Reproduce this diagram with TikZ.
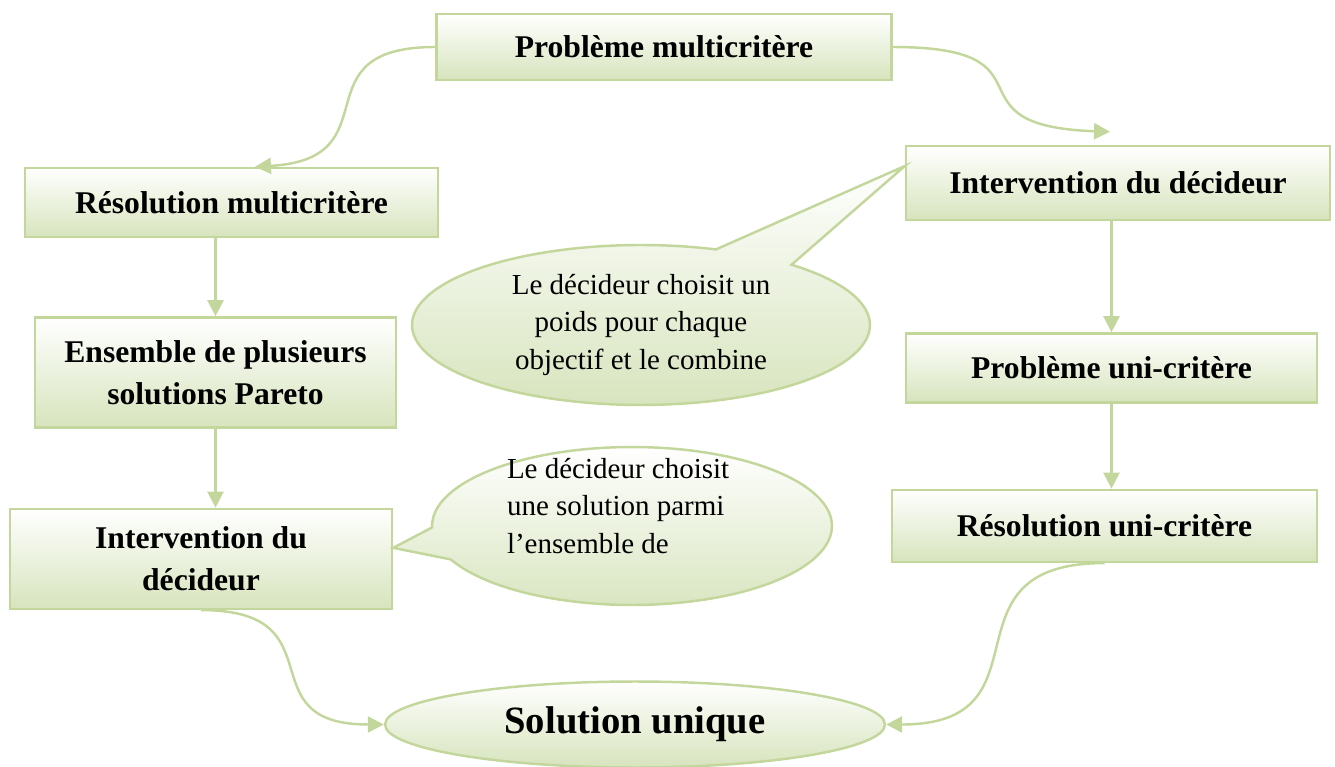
\documentclass[tikz,border=0pt]{standalone}
\usepackage{fontspec}
\setmainfont{Liberation Serif}
\usetikzlibrary{arrows.meta,positioning,shapes.geometric,shapes.callouts}
\definecolor{vline}{HTML}{C3D69B}
\definecolor{vfill}{HTML}{D7E4BD}

\begin{document}
\begin{tikzpicture}[
  x=0.02cm, y=-0.02cm,
  etape/.style={
    draw=vline,
    line width=1.4pt,
    top color=white,
    bottom color=vfill,
    align=center,
    inner sep=2pt,
    font=\fontsize{18}{24}\selectfont\bfseries
  },
  bulle/.style={
    ellipse callout,
    draw=vline,
    line width=1.4pt,
    top color=white,
    bottom color=vfill,
    inner sep=0pt,
    font=\fontsize{16.5}{21.3}\selectfont
  },
  flow/.style={-{Triangle[length=3.2mm,width=3.2mm]}, draw=vline, line width=1.4pt}
]

\useasboundingbox (0,0) rectangle (1335,767);

\node[etape, minimum width=9.1cm, minimum height=1.32cm] (pbmulti) at (664,47) {Problème multicritère};

\node[etape, minimum width=8.26cm, minimum height=1.38cm] (resmulti) at (231.5,202.5) {Résolution multicritère};
\node[etape, minimum width=7.22cm, minimum height=2.2cm, below=1.56cm of resmulti, xshift=-0.32cm] (pareto) {
  Ensemble de plusieurs\\solutions Pareto
};
\node[etape, minimum width=7.64cm, minimum height=2cm, below=1.58cm of pareto, xshift=-0.29cm] (choixg) {
  Intervention du\\décideur
};

\node[etape, minimum width=8.48cm, minimum height=1.48cm] (choixd) at (1118,183) {Intervention du décideur};
\node[etape, minimum width=8.22cm, minimum height=1.38cm, below=2.22cm of choixd, xshift=-0.13cm] (pbuni) {Problème uni-critère};
\node[etape, minimum width=8.5cm, minimum height=1.44cm, below=1.7cm of pbuni, xshift=-0.14cm] (resuni) {Résolution uni-critère};

\node[etape, ellipse, minimum width=10cm, minimum height=1.72cm, font=\fontsize{22}{26}\selectfont\bfseries] (unique) at (635,724.5) {Solution unique};

\node[bulle, align=center, minimum width=9.16cm, minimum height=3.2cm,
  callout absolute pointer={([yshift=0.34cm]choixd.west)}, callout pointer arc=22] (bulled) at (641,325) {
  Le décideur choisit un\\poids pour chaque\\objectif et le combine
};
\node[bulle, minimum width=8cm, minimum height=3.16cm,
  callout absolute pointer={([yshift=0.22cm]choixg.east)}, callout pointer arc=24] (bulleg) at (632,526) {
  \raisebox{0.25cm}[0pt][0pt]{\parbox{5cm}{Le décideur choisit\\une solution parmi\\l’ensemble de}}
};

\draw[flow] (pbmulti.west) .. controls +(-140,0) and +(140,-8) .. ([xshift=0.47cm]resmulti.north);
\draw[flow] (pbmulti.east) .. controls +(170,0) and +(-170,-6) .. ([xshift=-0.16cm,yshift=0.26cm]choixd.north);

\draw[flow] (resmulti.south -| pareto.north) -- (pareto.north);
\draw[flow] (pareto.south) -- (pareto.south |- choixg.north);
\draw[flow] (choixd.south -| pbuni.north) -- (pbuni.north);
\draw[flow] (pbuni.south) -- (pbuni.south |- resuni.north);

\draw[flow] (choixg.south) .. controls +(140,0) and +(-140,0) .. (unique.west);
\draw[flow] (resuni.south) .. controls +(-170,0) and +(170,0) .. (unique.east);

\end{tikzpicture}
\end{document}
